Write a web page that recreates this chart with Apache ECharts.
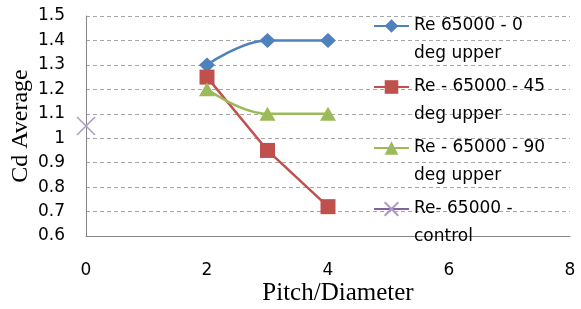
<!DOCTYPE html>
<html>
<head>
<meta charset="utf-8">
<script src="https://cdn.jsdelivr.net/npm/echarts@6/dist/echarts.min.js"></script>
<style>
  html, body { margin: 0; padding: 0; background: #fff; }
  #chart { width: 581px; height: 309px; }
</style>
</head>
<body>
<div id="chart"></div>
<script>
// data
var pitch = [2, 3, 4];
var cd0 = [1.30, 1.40, 1.40];
var cd45 = [1.25, 0.95, 0.72];
var cd90 = [1.20, 1.10, 1.10];
var controlX = [0];
var controlCd = [1.05];
var seriesNames = ['Re 65000 - 0\ndeg upper', 'Re - 65000 - 45\ndeg upper', 'Re - 65000 - 90\ndeg upper', 'Re- 65000 -\ncontrol'];

function pairs(xs, ys) {
  return xs.map(function (x, i) { return [x, ys[i]]; });
}

var myChart = echarts.init(document.getElementById('chart'));

var labelFont = 'DejaVu Sans';
var crossPath = 'path://M0,0L10,10M10,0L0,10';

var option = {
  animation: false,
  grid: { left: 86, right: 11, top: 16, bottom: 73, outerBoundsMode: 'none', containLabel: false },
  xAxis: {
    type: 'value',
    min: 0, max: 8, interval: 2,
    name: 'Pitch/Diameter',
    nameLocation: 'middle',
    nameGap: 45,
    nameMoveOverlap: false,
    nameTextStyle: { fontFamily: 'Liberation Serif', fontSize: 25, color: '#000', padding: [0, 0, 0, 20] },
    axisLine: { lineStyle: { color: '#868686', width: 1 } },
    axisTick: { show: false },
    axisLabel: { fontFamily: labelFont, fontSize: 17, color: '#000', margin: 26 },
    splitLine: { show: false }
  },
  yAxis: {
    type: 'value',
    min: 0.6, max: 1.5, interval: 0.1,
    name: 'Cd Average',
    nameLocation: 'middle',
    nameGap: 53,
    nameMoveOverlap: false,
    nameTextStyle: { fontFamily: 'Liberation Serif', fontSize: 24, color: '#000' },
    axisLine: { show: true, lineStyle: { color: '#868686', width: 1 } },
    axisTick: { show: false },
    axisLabel: { fontFamily: labelFont, fontSize: 17, color: '#000', margin: 21 },
    splitLine: { lineStyle: { color: '#A6A6A6', type: [4, 3], width: 1 } }
  },
  legend: {
    orient: 'vertical',
    left: 373,
    top: -16,
    padding: 0,
    itemGap: -23,
    itemWidth: 35,
    itemHeight: 17,
    textStyle: {
      fontFamily: labelFont, fontSize: 17, color: '#000',
      lineHeight: 28
    },
    formatter: function (name) { return '\n' + name; },
    data: seriesNames
  },
  series: [
    {
      name: seriesNames[0],
      type: 'line',
      smooth: 0.4,
      data: pairs(pitch, cd0),
      symbol: 'diamond',
      symbolSize: [16, 15],
      itemStyle: { color: '#4F81BD' },
      lineStyle: { color: '#4F81BD', width: 2.5 }
    },
    {
      name: seriesNames[1],
      type: 'line',
      data: pairs(pitch, cd45),
      symbol: 'rect',
      symbolSize: 15,
      itemStyle: { color: '#C0504D' },
      lineStyle: { color: '#C0504D', width: 2.5 }
    },
    {
      name: seriesNames[2],
      type: 'line',
      smooth: 0.4,
      data: pairs(pitch, cd90),
      symbol: 'triangle',
      symbolSize: [16, 14],
      itemStyle: { color: '#9BBB59' },
      lineStyle: { color: '#9BBB59', width: 2.5 }
    },
    {
      name: seriesNames[3],
      type: 'line',
      data: pairs(controlX, controlCd),
      symbol: crossPath,
      symbolSize: 18,
      clip: false,
      itemStyle: { color: '#A99BC6', borderColor: '#A99BC6', borderWidth: 1.5 },
      lineStyle: { color: '#8064A2', width: 2.5 }
    }
  ]
};

myChart.setOption(option);
</script>
</body>
</html>
